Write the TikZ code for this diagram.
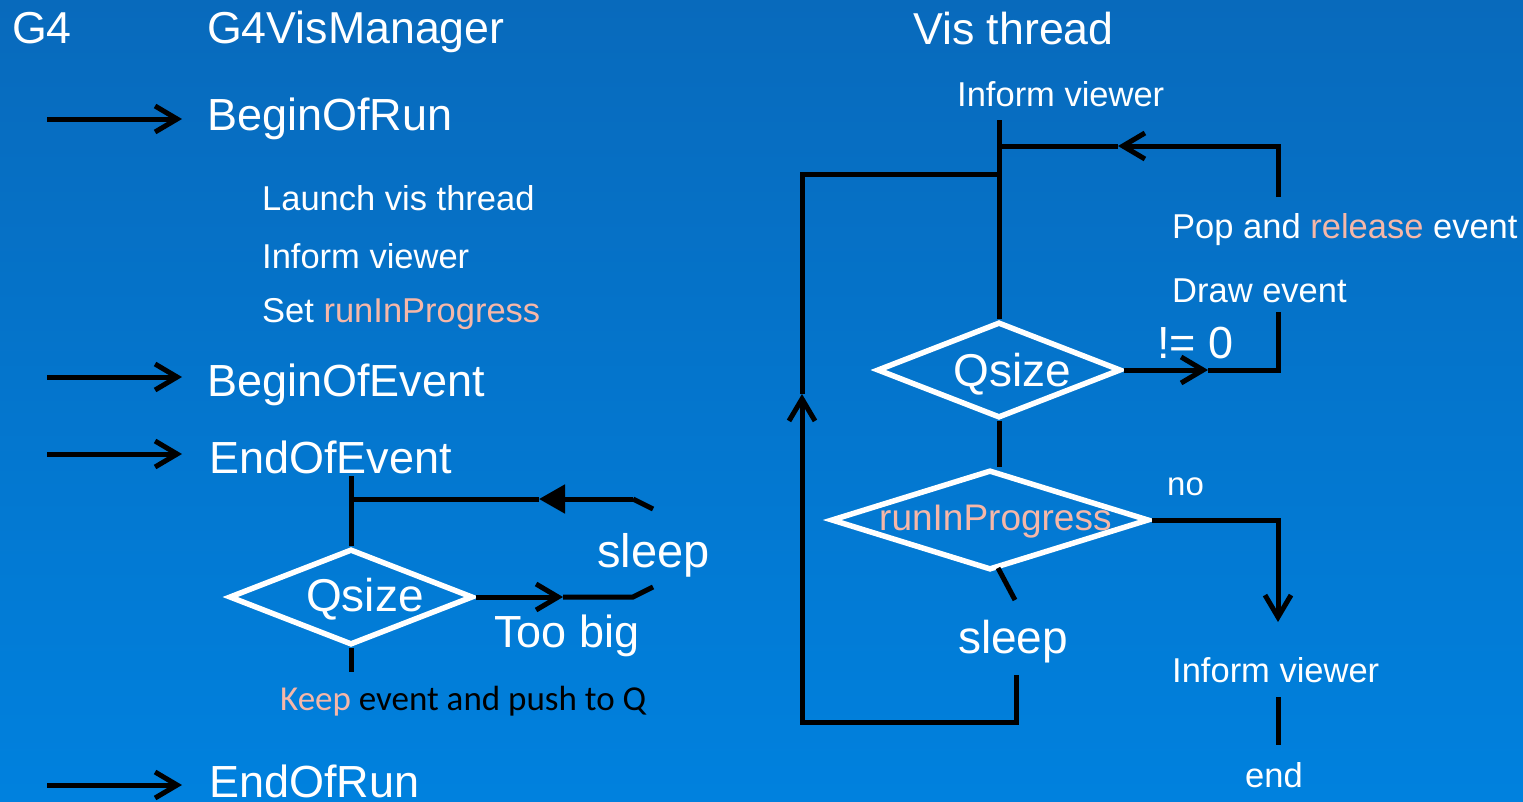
\documentclass[tikz,border=0pt]{standalone}
\usepackage{fontspec}
\setmainfont{Liberation Sans}
\newfontfamily\calib{Carlito}
\usetikzlibrary{arrows.meta,shapes.geometric}
\definecolor{bgtop}{RGB}{8,106,188}
\definecolor{bgbot}{RGB}{0,129,222}
\definecolor{salmon}{RGB}{246,183,168}
\newcommand{\fsz}[1]{\fontsize{#1}{#1}\selectfont}
\begin{document}
\begin{tikzpicture}[x=1pt,y=-1pt,
  txt/.style={inner sep=0pt,anchor=base west,text=white},
  big/.style={txt,font=\fsz{45}},
  small/.style={txt,font=\fsz{34.5}},
  conn/.style={line width=5pt,draw=black},
  barb/.style={-{Straight Barb[length=22pt,width=26pt]}},
  dia/.style={diamond,draw=white,line width=5.5pt,minimum width=244pt,minimum height=96pt,inner sep=0pt}]
\shade[top color=bgtop,bottom color=bgbot] (0,0) rectangle (1523,801);
\useasboundingbox (0,0) rectangle (1523,801);

% ---------- headings ----------
\node[txt,font=\fsz{44.7}] (g4) at (12,43) {G4};
\node[txt,font=\fsz{44.7}] (vm) at (207,43) {G4VisManager};
\node[txt,font=\fsz{44.7}] (vt) at (913,44) {Vis thread};

% ---------- left column ----------
\node[big] (bor) at (207,130) {BeginOfRun};
\node[small] (l1) at (262,210) {Launch vis thread};
\node[small] (l2) at (262,268) {Inform viewer};
\node[small] (l3) at (262,322) {Set \textcolor{salmon}{runInProgress}};
\node[big] (boe) at (207,396) {BeginOfEvent};
\node[big] (eoe) at (209,473) {EndOfEvent};
\node[big] (eor) at (209,797) {EndOfRun};

\foreach \y/\n in {119/a,377/b,454/c,785/d}{
  \coordinate (\n s) at (47,\y);
  \coordinate (\n e) at (182,\y);
  \draw[conn,barb] (\n s) -- (\n e);
}

% left flow
\node[dia] (dL) at (351,597) {};
\node[txt,font=\fsz{46}] (qL) at (306,611) {Qsize};
\node[txt,font=\fsz{47}] (slL) at (597,567) {sleep};
\node[txt,font=\fsz{45}] (tb) at (494,647) {Too big};
\node[inner sep=0pt,anchor=base west,font=\calib\fsz{35}] (keep) at (280,710) {\textcolor{salmon}{Keep} event and push to Q};

\coordinate (lTop) at (351,476);
\coordinate (lJ) at (351,499);
\coordinate (lTri) at (539,499);
\coordinate (lR1) at (633,499);
\coordinate (lD1) at (653,509);
\coordinate (lA) at (563,597);
\coordinate (lR2) at (633,597);
\coordinate (lD2) at (653,587);
\coordinate (lBot) at (351,672);
\draw[conn] (dL.north) -- (lTop);
\draw[conn,-{Triangle[length=26pt,width=28pt]}] (lR1) -- (lTri);
\draw[conn] (lTri) -- (lJ);
\draw[conn] (lR1) -- (lD1);
\draw[conn,barb] (dL.east) -- (lA);
\draw[conn] (lA) -- (lR2) -- (lD2);
\draw[conn] (dL.south) -- (lBot);

% ---------- right column ----------
\node[small] (iv1) at (957,106) {Inform viewer};
\node[dia] (dQ) at (999,370) {};
\node[txt,font=\fsz{46}] (qR) at (953,386) {Qsize};
\node[txt,font=\fsz{45}] (ne) at (1157,358) {!= 0};
\node[small] (pop) at (1172,238) {Pop and \textcolor{salmon}{release} event};
\node[small] (draw) at (1172,302) {Draw event};
\node[dia,minimum width=318pt,minimum height=100pt] (dR) at (990,520) {};
\node[txt,font=\fsz{37},text=salmon] (rip) at (879,530) {runInProgress};
\node[txt,font=\fsz{33}] (no) at (1167,495) {no};
\node[txt,font=\fsz{46}] (slR) at (958,653) {sleep};
\node[small] (iv2) at (1172,682) {Inform viewer};
\node[small] (endn) at (1245,787) {end};

\coordinate (rTop) at (999,120);
\coordinate (rJ1) at (999,146);
\coordinate (rA1) at (1118,146);
\coordinate (rC1) at (1278,146);
\coordinate (rC2) at (1278,197);
\coordinate (rA2) at (1208,370);
\coordinate (rC3) at (1278,370);
\coordinate (rC4) at (1278,312);
\coordinate (rC5) at (1278,520);
\coordinate (rA3) at (1278,622);
\coordinate (rS1) at (998,568);
\coordinate (rS2) at (1015,600);
\coordinate (rL1) at (1016,675);
\coordinate (rL2) at (1016,722);
\coordinate (rL3) at (802,722);
\coordinate (rA4) at (802,394);
\coordinate (rL4) at (802,174);
\coordinate (rJ2) at (999,174);
\coordinate (rE1) at (1278,697);
\coordinate (rE2) at (1278,745);

\draw[conn] (rTop) -- (dQ.north);
\draw[conn,barb] (rC2) -- (rC1) -- (rA1);
\draw[conn] (rA1) -- (rJ1);
\draw[conn,barb] (dQ.east) -- (rA2);
\draw[conn] (rA2) -- (rC3) -- (rC4);
\draw[conn] (dQ.south) -- (dQ.south |- dR.north);
\draw[conn,barb] (dR.east) -- (rC5) -- (rA3);
\draw[conn] (rS1) -- (rS2);
\draw[conn,barb] (rL1) -- (rL2) -- (rL3) -- (rA4);
\draw[conn] (rA4) -- (rL4) -- (rJ2);
\draw[conn] (rE1) -- (rE2);
\end{tikzpicture}
\end{document}
